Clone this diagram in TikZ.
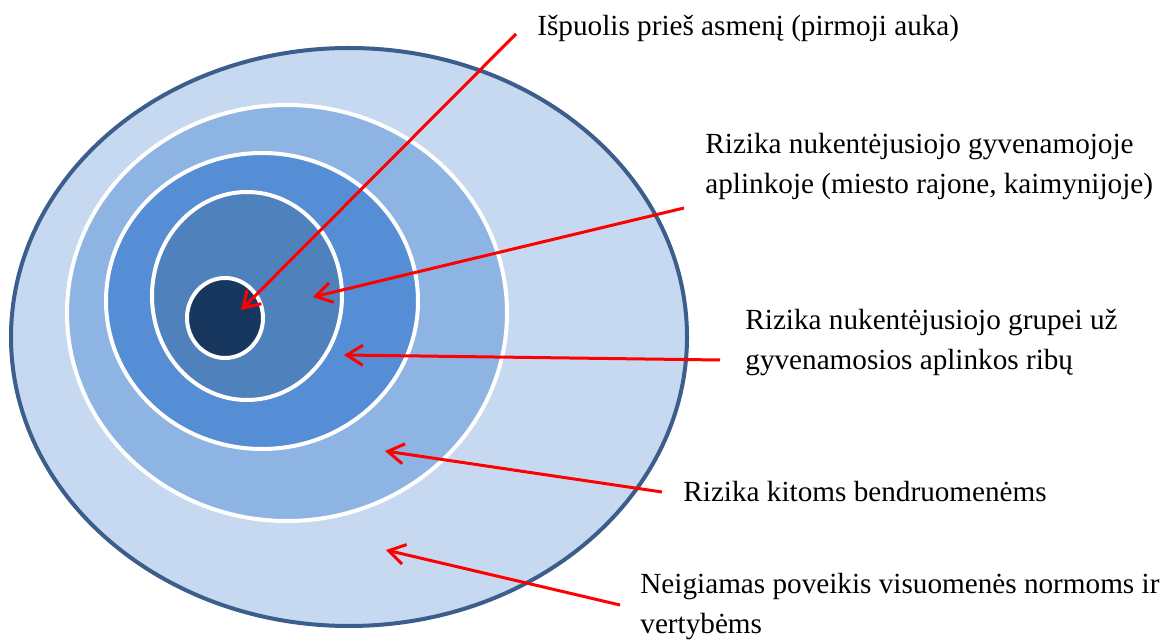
\documentclass[tikz,border=0pt]{standalone}
\usepackage{fontspec}
\setmainfont{Liberation Serif}
\usetikzlibrary{shapes.geometric,arrows.meta}
\definecolor{outerfill}{HTML}{C6D9F1}
\definecolor{outerline}{HTML}{3B5E8C}
\definecolor{ringthree}{HTML}{8EB4E3}
\definecolor{ringtwo}{HTML}{558ED5}
\definecolor{ringone}{HTML}{4F81BD}
\definecolor{corecol}{HTML}{17375E}
\begin{document}
\begin{tikzpicture}[x=0.5pt,y=-0.5pt,
  zone/.style={ellipse, inner sep=0pt, outer sep=0pt, draw=white, line width=2pt},
  lbl/.style={anchor=west, align=left, inner sep=0pt, font=\fontsize{14.6}{20}\selectfont},
  pointer/.style={draw=red, line width=1.5pt, -{Straight Barb[length=8pt,width=10pt]}}]
\useasboundingbox (0,0) rectangle (1167,641);
\node[zone, draw=outerline, fill=outerfill, minimum width=338pt, minimum height=289pt] (outer) at (349,337) {};
\node[zone, fill=ringthree, minimum width=220pt, minimum height=208pt] (ring3) at (287,313) {};
\node[zone, fill=ringtwo, minimum width=156pt, minimum height=148pt] (ring2) at (262,301) {};
\node[zone, fill=ringone, minimum width=95pt, minimum height=104pt] (ring1) at (247,296) {};
\node[zone, fill=corecol, minimum width=38pt, minimum height=40pt] (core) at (225,318) {};

\node[lbl] (l1) at (537,28) {Išpuolis prieš asmenį (pirmoji auka)};
\node[lbl] (l2) at (705,167) {Rizika nukentėjusiojo gyvenamojoje\\aplinkoje (miesto rajone, kaimynijoje)};
\node[lbl] (l3) at (745,342) {Rizika nukentėjusiojo grupei už\\gyvenamosios aplinkos ribų};
\node[lbl] (l4) at (683,492) {Rizika kitoms bendruomenėms};
\node[lbl] (l5) at (640,607) {Neigiamas poveikis visuomenės normoms ir\\vertybėms};

\coordinate (s1) at (516,34);  \coordinate (t1) at (241,310);
\coordinate (s2) at (684,208); \coordinate (t2) at (313,297);
\coordinate (s3) at (720,360); \coordinate (t3) at (344,355);
\coordinate (s4) at (662,492); \coordinate (t4) at (385,451);
\coordinate (s5) at (620,605); \coordinate (t5) at (386,550);
\draw[pointer] (s1) -- (t1);
\draw[pointer] (s2) -- (t2);
\draw[pointer] (s3) -- (t3);
\draw[pointer] (s4) -- (t4);
\draw[pointer] (s5) -- (t5);
\end{tikzpicture}
\end{document}
